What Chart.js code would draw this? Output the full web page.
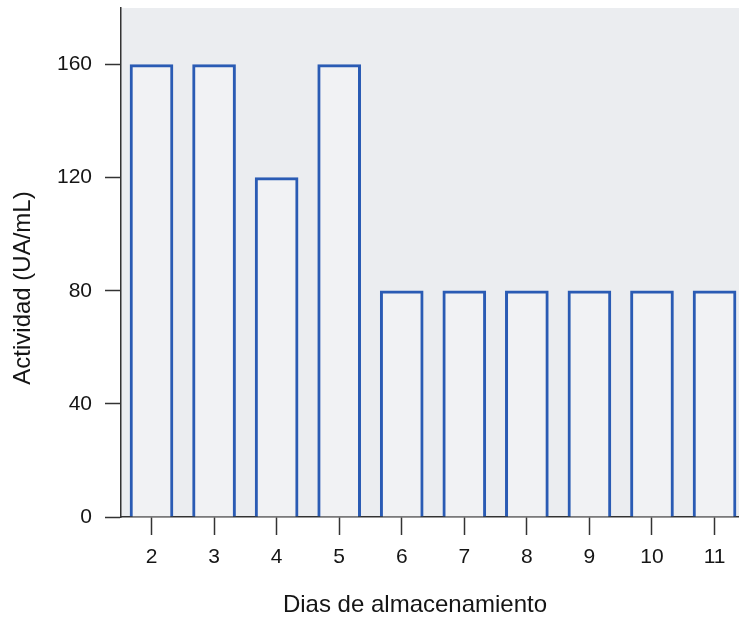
<!DOCTYPE html>
<html>
<head>
<meta charset="utf-8">
<script src="https://cdn.jsdelivr.net/npm/chart.js@4/dist/chart.umd.min.js"></script>
<style>
  html, body { margin: 0; padding: 0; background: #ffffff; }
  canvas { display: block; }
</style>
</head>
<body>
<canvas id="chart" width="739" height="623"></canvas>
<script>
// Data
var DIAS = [2, 3, 4, 5, 6, 7, 8, 9, 10, 11];
var ACTIVIDAD = [160, 160, 120, 160, 80, 80, 80, 80, 80, 80];
var Y_TICKS = [0, 40, 80, 120, 160];

var X_TITLE = 'Dias de almacenamiento';
var Y_TITLE = 'Actividad (UA/mL)';

var FONT = '"Liberation Sans", Arial, sans-serif';
var INK = '#151515';
var BLUE = '#2a5bb4';

// plot background + axis titles (titles placed by hand, the scan is off-centre)
var paper = {
  id: 'paper',
  beforeDraw: function (chart) {
    var a = chart.chartArea, ctx = chart.ctx;
    ctx.save();
    ctx.fillStyle = '#ebedf0';
    ctx.fillRect(a.left, a.top, a.right - a.left, a.bottom - a.top);
    ctx.restore();
  },
  afterDraw: function (chart) {
    var ctx = chart.ctx;
    ctx.save();
    ctx.fillStyle = INK;
    ctx.font = '24px ' + FONT;
    ctx.textAlign = 'center';
    ctx.textBaseline = 'middle';
    ctx.fillText(X_TITLE, 415, 605);

    ctx.translate(23, 288);
    ctx.rotate(-Math.PI / 2);
    ctx.fillText(Y_TITLE, 0, 0);
    ctx.restore();
  }
};

var points = DIAS.map(function (d, i) { return { x: d, y: ACTIVIDAD[i] }; });

new Chart(document.getElementById('chart'), {
  type: 'bar',
  data: {
    datasets: [{
      data: points,
      backgroundColor: '#f1f2f4',
      borderColor: BLUE,
      borderWidth: 3,
      barThickness: 43
    }]
  },
  options: {
    responsive: false,
    animation: false,
    devicePixelRatio: 1,
    layout: { padding: { top: 8, right: 0, left: 0, bottom: 0 } },
    plugins: {
      legend: { display: false },
      tooltip: { enabled: false }
    },
    scales: {
      x: {
        type: 'linear',
        offset: false,
        min: 1.5125,
        max: 11.391,
        afterBuildTicks: function (s) {
          s.ticks = DIAS.map(function (v) { return { value: v }; });
        },
        afterFit: function (s) {
          s.height = 106;
          s.paddingLeft = 0;
          s.paddingRight = 0;
        },
        grid: {
          offset: false,
          drawOnChartArea: false,
          drawTicks: true,
          tickLength: 18,
          tickWidth: 1.5,
          tickColor: '#333333'
        },
        border: { display: true, color: '#333333', width: 1.5 },
        ticks: {
          padding: 10,
          color: INK,
          font: { family: FONT, size: 21 },
          maxRotation: 0,
          autoSkip: false
        }
      },
      y: {
        min: 0,
        max: 180,
        afterBuildTicks: function (s) {
          s.ticks = Y_TICKS.map(function (v) { return { value: v }; });
        },
        afterFit: function (s) {
          s.width = 121;
          s.paddingTop = 0;
          s.paddingBottom = 0;
        },
        grid: {
          drawOnChartArea: false,
          drawTicks: true,
          tickLength: 16,
          tickWidth: 1.5,
          tickColor: '#333333'
        },
        border: { display: true, color: '#333333', width: 1.5 },
        ticks: {
          padding: 13,
          color: INK,
          font: { family: FONT, size: 21 }
        }
      }
    }
  },
  plugins: [paper]
});
</script>
</body>
</html>
